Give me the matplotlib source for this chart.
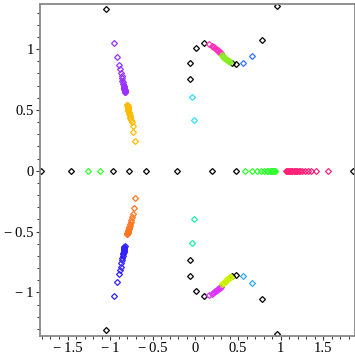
import matplotlib
matplotlib.use("Agg")
import matplotlib.pyplot as plt
from matplotlib.ticker import MultipleLocator, FixedLocator, FixedFormatter

# root locations (real part, imaginary part), one list pair per colour group
black_re = [-1.81, -1.456, -0.971, -0.776, -0.577, -0.217, 0.197, 0.471, 1.843,
            -1.046, -1.046, 0.959, 0.959, 0.002, 0.002, -0.061, -0.061, -0.061, -0.061,
            0.103, 0.103, 0.432, 0.432, 0.478, 0.478, 0.783, 0.783]
black_im = [0, 0, 0, 0, 0, 0, 0, 0, 0,
            1.326, -1.309, 1.351, -1.344, 1.006, -0.991, 0.882, -0.868, 0.751, -0.736,
            1.047, -1.032, 0.882, -0.868, 0.874, -0.860, 1.071, -1.057]

violet_re = [-0.952, -0.917, -0.893, -0.882, -0.873, -0.865, -0.862, -0.856, -0.851, -0.847,
             -0.843, -0.840, -0.837, -0.835, -0.833, -0.831, -0.830, -0.829, -0.828,
             -0.827, -0.826, -0.826]
violet_im = [1.047, 0.934, 0.871, 0.836, 0.805, 0.781, 0.759, 0.740, 0.725, 0.712,
             0.700, 0.690, 0.682, 0.675, 0.669, 0.664, 0.660, 0.656, 0.652,
             0.650, 0.648, 0.646]

amber_re = [-0.709, -0.729, -0.736, -0.744, -0.753, -0.762, -0.768, -0.772, -0.776, -0.780,
            -0.784, -0.787, -0.790, -0.792, -0.794, -0.796, -0.797, -0.798, -0.799, -0.800]
amber_im = [0.242, 0.320, 0.370, 0.398, 0.417, 0.432, 0.444, 0.455, 0.466, 0.476,
            0.485, 0.493, 0.501, 0.509, 0.517, 0.524, 0.531, 0.536, 0.540, 0.543]

orange_re = [-0.706, -0.725, -0.736, -0.744, -0.752, -0.758, -0.764, -0.769, -0.774, -0.778,
             -0.782, -0.786, -0.789, -0.792, -0.795, -0.797, -0.799, -0.800, -0.801]
orange_im = [-0.227, -0.306, -0.356, -0.380, -0.405, -0.423, -0.438, -0.451, -0.462, -0.472,
             -0.481, -0.489, -0.496, -0.502, -0.507, -0.511, -0.515, -0.518, -0.520]

blue_re = [-0.952, -0.917, -0.893, -0.885, -0.877, -0.870, -0.862, -0.857, -0.852, -0.848,
           -0.845, -0.842, -0.840, -0.838, -0.836, -0.835, -0.834, -0.833, -0.832]
blue_im = [-1.030, -0.917, -0.849, -0.816, -0.789, -0.761, -0.734, -0.715, -0.699, -0.686,
           -0.675, -0.665, -0.656, -0.648, -0.641, -0.634, -0.628, -0.624, -0.621]

pink_re = [0.162, 0.190, 0.205, 0.218, 0.230, 0.240, 0.250, 0.258, 0.266, 0.274, 0.282, 0.290, 0.299]
pink_im = [1.041, 1.025, 1.019, 1.013, 1.007, 1.001, 0.995, 0.989, 0.984, 0.978, 0.973, 0.969, 0.965]

lime_re = [0.307, 0.318, 0.328, 0.338, 0.347, 0.356, 0.365, 0.374, 0.383, 0.391, 0.398, 0.404]
lime_im = [0.951, 0.944, 0.937, 0.930, 0.924, 0.918, 0.913, 0.908, 0.904, 0.900, 0.898, 0.896]

magenta_re = [0.162, 0.190, 0.205, 0.218, 0.230, 0.240, 0.250, 0.258, 0.266, 0.274, 0.282, 0.290, 0.299]
magenta_im = [-1.024, -1.010, -1.003, -0.997, -0.991, -0.985, -0.980, -0.975, -0.970, -0.965, -0.960, -0.956, -0.953]

chartreuse_re = [0.314, 0.324, 0.334, 0.344, 0.353, 0.362, 0.371, 0.380, 0.389, 0.397, 0.404, 0.410, 0.416]
chartreuse_im = [-0.933, -0.926, -0.919, -0.912, -0.905, -0.899, -0.893, -0.888, -0.883, -0.879, -0.875, -0.873, -0.871]

sky_re = [-0.037, -0.014]
sky_im = [0.608, 0.414]
mint_re = [-0.037, -0.014]
mint_im = [-0.597, -0.397]
royal_re = [0.560, 0.666]
royal_im = [0.882, 0.942]
azure_re = [0.560, 0.666]
azure_im = [-0.868, -0.925]

green_re = [-1.257, -1.116, 0.584, 0.662, 0.717, 0.764, 0.807, 0.834, 0.852, 0.868,
            0.882, 0.894, 0.905, 0.914, 0.922, 0.928, 0.932]
green_im = [0] * len(green_re)

rose_re = [1.557, 1.413, 1.354, 1.322, 1.284, 1.245, 1.226, 1.208, 1.192, 1.178,
           1.164, 1.150, 1.137, 1.124, 1.111, 1.098, 1.085, 1.072, 1.060]
rose_im = [0] * len(rose_re)

series = [
    (black_re, black_im, "black"),
    (violet_re, violet_im, "#9933ff"),
    (amber_re, amber_im, "#ffbb00"),
    (orange_re, orange_im, "#ff7722"),
    (blue_re, blue_im, "#3322ff"),
    (pink_re, pink_im, "#ff33bb"),
    (lime_re, lime_im, "#88ee22"),
    (magenta_re, magenta_im, "#dd33ff"),
    (chartreuse_re, chartreuse_im, "#ccf000"),
    (sky_re, sky_im, "#33ddff"),
    (mint_re, mint_im, "#22eeaa"),
    (royal_re, royal_im, "#3377ff"),
    (azure_re, azure_im, "#33aaff"),
    (green_re, green_im, "#33ff33"),
    (rose_re, rose_im, "#ff2277"),
]

fig = plt.figure(figsize=(3.55, 3.55), dpi=100)
ax = fig.add_axes([40 / 355, 19 / 355, 315 / 355, 332 / 355])

for re_vals, im_vals, color in series:
    ax.plot(re_vals, im_vals, linestyle="none", marker="D", markersize=3.0,
            markerfacecolor="none", markeredgecolor=color, markeredgewidth=0.9)

ax.set_xlim(-1.823, 1.870)
ax.set_ylim(-1.358, 1.370)

# Maple-style labels: a thin gap after the minus sign
xt = [-1.5, -1.0, -0.5, 0.0, 0.5, 1.0, 1.5]
xl = ["\u2212\u20091.5", "\u2212\u20091", "\u2212\u20090.5", "0", "0.5", "1", "1.5"]
yt = [-1.0, -0.5, 0.0, 0.5, 1.0]
yl = ["\u2212\u20091", "\u2212\u20090.5", "0", "0.5", "1"]
ax.xaxis.set_major_locator(FixedLocator(xt))
ax.xaxis.set_major_formatter(FixedFormatter(xl))
ax.yaxis.set_major_locator(FixedLocator(yt))
ax.yaxis.set_major_formatter(FixedFormatter(yl))
ax.xaxis.set_minor_locator(MultipleLocator(0.1))
ax.yaxis.set_minor_locator(MultipleLocator(0.1))

for side in ["left", "bottom", "top", "right"]:
    ax.spines[side].set_color("#888888")
    ax.spines[side].set_linewidth(1.3)

ax.tick_params(which="major", direction="out", length=3, width=0.8, color="#333333", pad=1.5)
ax.tick_params(which="minor", direction="out", length=2, width=0.7, color="#333333")
ax.tick_params(top=False, right=False, which="both")
for lab in ax.get_xticklabels() + ax.get_yticklabels():
    lab.set_family(["Liberation Serif", "DejaVu Serif"])
    lab.set_fontsize(10.5)

fig.savefig("out.png", dpi=100)
